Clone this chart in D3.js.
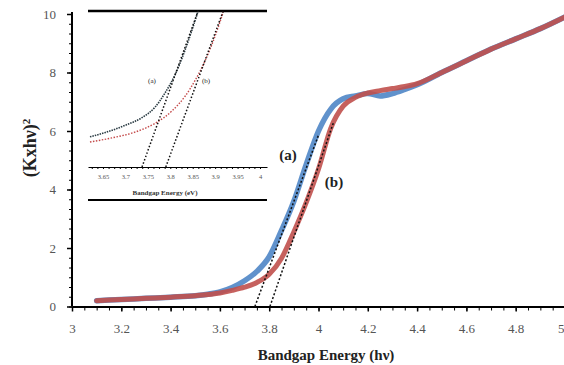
<!DOCTYPE html>
<html>
<head>
<meta charset="utf-8">
<script src="https://cdn.jsdelivr.net/npm/d3@7"></script>
<style>
  body { margin: 0; background: #fff; }
  svg { display: block; font-family: "Liberation Serif", "DejaVu Serif", serif; }
</style>
</head>
<body>
<div id="app"></div>
<script>
// ---------- Data ----------

// main chart, sample (a) blue and (b) red
const energyA = [3.10, 3.20, 3.30, 3.40, 3.50, 3.55, 3.60, 3.65, 3.70, 3.75, 3.80, 3.85, 3.90, 3.95, 4.00, 4.05, 4.10, 4.15, 4.20, 4.25, 4.30, 4.35, 4.40, 4.50, 4.60, 4.70, 4.80, 4.90, 5.00];
const valuesA = [0.20, 0.24, 0.28, 0.32, 0.37, 0.42, 0.50, 0.65, 0.88, 1.20, 1.70, 2.60, 3.60, 4.85, 6.00, 6.75, 7.10, 7.20, 7.28, 7.20, 7.28, 7.42, 7.58, 8.00, 8.40, 8.80, 9.15, 9.50, 9.90];

const energyB = [3.10, 3.20, 3.30, 3.40, 3.50, 3.60, 3.65, 3.70, 3.75, 3.80, 3.85, 3.90, 3.95, 4.00, 4.05, 4.10, 4.15, 4.20, 4.25, 4.30, 4.35, 4.40, 4.50, 4.60, 4.70, 4.80, 4.90, 5.00];
const valuesB = [0.20, 0.24, 0.28, 0.32, 0.37, 0.46, 0.55, 0.66, 0.82, 1.10, 1.65, 2.55, 3.55, 4.70, 6.10, 6.85, 7.15, 7.30, 7.38, 7.45, 7.52, 7.62, 8.00, 8.40, 8.80, 9.15, 9.50, 9.90];

// tangent (extrapolation) lines
const tangentAE = [3.742, 4.00];
const tangentAV = [0, 5.86];
const tangentBE = [3.803, 4.06];
const tangentBV = [0, 6.27];

const xTicks = [3, 3.2, 3.4, 3.6, 3.8, 4, 4.2, 4.4, 4.6, 4.8, 5];
const xTickLabels = ["3", "3.2", "3.4", "3.6", "3.8", "4", "4.2", "4.4", "4.6", "4.8", "5"];
const yTicks = [0, 2, 4, 6, 8, 10];

// inset chart
const insetEA = [3.621, 3.654, 3.699, 3.737, 3.766, 3.788, 3.811, 3.833, 3.849, 3.862];
const insetVA = [0.58, 0.66, 0.80, 0.95, 1.15, 1.42, 1.78, 2.25, 2.65, 3.00];
const insetEB = [3.621, 3.670, 3.721, 3.766, 3.804, 3.833, 3.855, 3.878, 3.900, 3.918];
const insetVB = [0.48, 0.56, 0.67, 0.84, 1.08, 1.36, 1.66, 2.05, 2.52, 2.98];
const insetTanAE = [3.737, 3.862];
const insetTanAV = [0, 3.0];
const insetTanBE = [3.790, 3.918];
const insetTanBV = [0, 3.0];
const insetTicks = [3.65, 3.7, 3.75, 3.8, 3.85, 3.9, 3.95, 4];
const insetTickLabels = ["3.65", "3.7", "3.75", "3.8", "3.85", "3.9", "3.95", "4"];

// ---------- Setup ----------

const W = 564, H = 365;
const svg = d3.select("#app").append("svg").attr("width", W).attr("height", H);

const x = d3.scaleLinear().domain([3, 5]).range([72, 565]);
const y = d3.scaleLinear().domain([0, 10]).range([306.5, 14]);

const zip = (es, vs) => es.map((e, i) => [e, vs[i]]);
const line = d3.line().x(d => x(d[0])).y(d => y(d[1])).curve(d3.curveMonotoneX);

// ---------- Axes ----------

// x minor ticks
svg.append("g")
  .attr("transform", `translate(0, ${y(0)})`)
  .call(d3.axisBottom(x).tickValues(d3.range(3, 5.001, 0.05)).tickSize(4).tickSizeOuter(0).tickFormat(""))
  .call(g => g.select(".domain").attr("stroke-width", 2));

// x major ticks + labels
svg.append("g")
  .attr("transform", `translate(0, ${y(0)})`)
  .call(d3.axisBottom(x).tickValues(xTicks).tickSize(5).tickSizeOuter(0).tickPadding(12)
    .tickFormat((d, i) => xTickLabels[i]))
  .call(g => g.select(".domain").remove())
  .call(g => g.selectAll("line").attr("stroke-width", 1.5))
  .call(g => g.selectAll("text").attr("font-family", "Liberation Serif").attr("font-size", 13).attr("fill", "#555"))
  .call(g => g.selectAll("text").filter(d => d === 5).attr("text-anchor", "end").attr("dx", -1));

// y minor ticks
svg.append("g")
  .attr("transform", `translate(${x(3)}, 0)`)
  .call(d3.axisLeft(y).tickValues(d3.range(0, 10.001, 1 / 3)).tickSize(3).tickSizeOuter(0).tickFormat(""))
  .call(g => g.select(".domain").attr("stroke-width", 2).attr("d", `M0,${y(0)}V12`));

// y major ticks + labels
svg.append("g")
  .attr("transform", `translate(${x(3)}, 0)`)
  .call(d3.axisLeft(y).tickValues(yTicks).tickSize(5).tickSizeOuter(0).tickPadding(11))
  .call(g => g.select(".domain").remove())
  .call(g => g.selectAll("line").attr("stroke-width", 1.5))
  .call(g => g.selectAll("text").attr("font-family", "Liberation Serif").attr("font-size", 13).attr("fill", "#555"));

// axis titles
svg.append("text")
  .attr("x", 326).attr("y", 360)
  .attr("text-anchor", "middle")
  .attr("font-family", "Liberation Serif").attr("font-weight", "bold").attr("font-size", 15)
  .attr("fill", "#222")
  .text("Bandgap Energy (hν)");

svg.append("text")
  .attr("transform", "translate(36, 148) rotate(-90)")
  .attr("text-anchor", "middle")
  .attr("font-family", "Liberation Serif").attr("font-weight", "bold").attr("font-size", 18)
  .attr("fill", "#222")
  .html("(Kxhν)<tspan baseline-shift='super' font-size='11'>2</tspan>");

// ---------- Main curves ----------

svg.append("path").datum(zip(energyA, valuesA))
  .attr("d", line).attr("fill", "none")
  .attr("stroke", "#4f86c6").attr("stroke-width", 5.5).attr("stroke-linecap", "round").attr("opacity", 0.9);

svg.append("path").datum(zip(energyB, valuesB))
  .attr("d", line).attr("fill", "none")
  .attr("stroke", "#c0504d").attr("stroke-width", 5).attr("stroke-linecap", "round").attr("opacity", 0.9);

// tangent lines
[[tangentAE, tangentAV], [tangentBE, tangentBV]].forEach(([es, vs]) => {
  svg.append("path").datum(zip(es, vs))
    .attr("d", d3.line().x(d => x(d[0])).y(d => y(d[1])))
    .attr("fill", "none").attr("stroke", "#111")
    .attr("stroke-width", 1.5).attr("stroke-dasharray", "2,2");
});

svg.append("text").attr("x", 288).attr("y", 160).attr("text-anchor", "middle")
  .attr("font-family", "Liberation Serif").attr("font-weight", "bold").attr("font-size", 15).attr("fill", "#222")
  .text("(a)");
svg.append("text").attr("x", 334).attr("y", 187).attr("text-anchor", "middle")
  .attr("font-family", "Liberation Serif").attr("font-weight", "bold").attr("font-size", 15).attr("fill", "#222")
  .text("(b)");

// ---------- Inset ----------

const ix = d3.scaleLinear().domain([3.6166, 4.0156]).range([88, 267]);
const iy = d3.scaleLinear().domain([0, 3]).range([167, 11]);
const iline = d3.line().x(d => ix(d[0])).y(d => iy(d[1])).curve(d3.curveMonotoneX);

const inset = svg.append("g");

inset.append("line").attr("x1", 88).attr("x2", 267).attr("y1", 11).attr("y2", 11)
  .attr("stroke", "#000").attr("stroke-width", 2.5);
inset.append("line").attr("x1", 88).attr("x2", 267).attr("y1", 200).attr("y2", 200)
  .attr("stroke", "#000").attr("stroke-width", 2);

inset.append("g")
  .attr("transform", `translate(0, ${iy(0)})`)
  .call(d3.axisBottom(ix).tickValues(d3.range(3.625, 4.0101, 0.0125)).tickSize(2).tickSizeOuter(0).tickFormat(""))
  .call(g => g.select(".domain").attr("stroke-width", 1));

inset.append("g")
  .attr("transform", `translate(0, ${iy(0)})`)
  .call(d3.axisBottom(ix).tickValues(insetTicks).tickSize(0).tickPadding(7)
    .tickFormat((d, i) => insetTickLabels[i]))
  .call(g => g.select(".domain").remove())
  .call(g => g.selectAll("text").attr("font-family", "Liberation Serif").attr("font-size", 6.5).attr("fill", "#555"));

inset.append("text").attr("x", 165).attr("y", 195).attr("text-anchor", "middle")
  .attr("font-family", "Liberation Serif").attr("font-weight", "bold").attr("font-size", 7).attr("fill", "#333")
  .text("Bandgap Energy (eV)");

inset.append("path").datum(zip(insetEB, insetVB))
  .attr("d", iline).attr("fill", "none")
  .attr("stroke", "#c44a4a").attr("stroke-width", 1.4).attr("stroke-dasharray", "1.5,1.5");
inset.append("path").datum(zip(insetEA, insetVA))
  .attr("d", iline).attr("fill", "none")
  .attr("stroke", "#2b3c44").attr("stroke-width", 1.6).attr("stroke-dasharray", "1.5,1");

[[insetTanAE, insetTanAV], [insetTanBE, insetTanBV]].forEach(([es, vs]) => {
  inset.append("path").datum(zip(es, vs))
    .attr("d", d3.line().x(d => ix(d[0])).y(d => iy(d[1])))
    .attr("fill", "none").attr("stroke", "#111")
    .attr("stroke-width", 1.5).attr("stroke-dasharray", "1.5,2");
});

inset.append("text").attr("x", 152).attr("y", 83).attr("text-anchor", "middle")
  .attr("font-family", "Liberation Serif").attr("font-size", 7).attr("fill", "#222").text("(a)");
inset.append("text").attr("x", 206).attr("y", 83).attr("text-anchor", "middle")
  .attr("font-family", "Liberation Serif").attr("font-size", 7).attr("fill", "#222").text("(b)");
</script>
</body>
</html>
